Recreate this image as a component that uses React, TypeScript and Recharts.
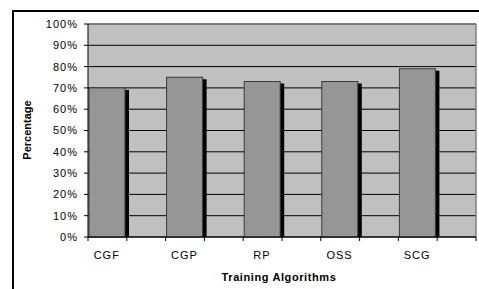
import React from "react";
import { BarChart, Bar, XAxis, YAxis, CartesianGrid, ReferenceLine } from "recharts";

const algorithms = ["CGF", "CGP", "RP", "OSS", "SCG"];
const percentages = [70, 75, 73, 73, 79];
const yTicks = [0, 10, 20, 30, 40, 50, 60, 70, 80, 90, 100];

const data = algorithms.map((name, i) => ({ name, value: percentages[i] }));

const FONT = "'Liberation Sans', Arial, sans-serif";
const PLOT_LEFT = 88;
const PLOT_RIGHT = 476;
const BAND = (PLOT_RIGHT - PLOT_LEFT) / algorithms.length;

// Excel-style bar: grey bar in the left half of the band with a black drop shadow
const ShadowBar = (props: any) => {
  const { x, y, width, height } = props;
  if (!height || height <= 0) return null;
  const w = Math.round(width / 2 - 2.8);
  return (
    <g>
      <rect x={x + 5} y={y + 2} width={w} height={height - 2} fill="#000" />
      <rect x={x + 1} y={y} width={w} height={height} fill="#969696" stroke="#3a3a3a" strokeWidth={1} />
    </g>
  );
};

const XTick = (props: any) => {
  const { x, y, payload, index } = props;
  const last = index === algorithms.length - 1;
  return (
    <g>
      <line x1={x - BAND / 2} x2={x - BAND / 2} y1={y} y2={y + 4} stroke="#000" />
      <line x1={x} x2={x} y1={y} y2={y + 4} stroke="#000" />
      {last && <line x1={x + BAND / 2} x2={x + BAND / 2} y1={y} y2={y + 4} stroke="#000" />}
      <text
        x={x - 20}
        y={y + 22}
        textAnchor="middle"
        fontFamily={FONT}
        fontSize={11}
        letterSpacing={1}
        fill="#000"
      >
        {payload.value}
      </text>
    </g>
  );
};

export default function App() {
  return (
    <div style={{ position: "absolute", left: 0, top: 0, width: 479, height: 289, overflow: "hidden", background: "#fff" }}>
      <div
        style={{
          position: "absolute",
          left: 12,
          top: 10,
          width: 600,
          height: 400,
          borderTop: "2px solid #000",
          borderLeft: "2px solid #000",
        }}
      />
      <div style={{ position: "absolute", left: 0, top: 0 }}>
        <BarChart
          width={479}
          height={289}
          data={data}
          margin={{ top: 24, right: 479 - PLOT_RIGHT, bottom: 22, left: 28 }}
          barCategoryGap={0}
          barGap={0}
        >
          <CartesianGrid vertical={false} stroke="#000" fill="#C0C0C0" fillOpacity={1} />
          <ReferenceLine y={100} stroke="#808080" strokeWidth={1.5} />
          <XAxis
            dataKey="name"
            height={30}
            axisLine={{ stroke: "#000" }}
            tickLine={false}
            tickSize={0}
            tickMargin={0}
            interval={0}
            tick={<XTick />}
          />
          <YAxis
            width={60}
            domain={[0, 100]}
            ticks={yTicks}
            interval={0}
            tickFormatter={(v: number) => `${v}%`}
            axisLine={{ stroke: "#000" }}
            tickLine={{ stroke: "#000" }}
            tickSize={4}
            tickMargin={6}
            tick={{ fontFamily: FONT, fontSize: 11, fill: "#000", letterSpacing: 1 }}
          />
          <Bar dataKey="value" shape={<ShadowBar />} isAnimationActive={false} />
          <line x1={PLOT_RIGHT} x2={PLOT_RIGHT} y1={24} y2={237} stroke="#808080" strokeWidth={1.5} />
          <text
            x={27}
            y={130}
            transform="rotate(-90 27 130)"
            textAnchor="middle"
            dominantBaseline="central"
            fontFamily={FONT}
            fontSize={11}
            fontWeight="bold"
            fill="#000"
          >
            Percentage
          </text>
          <text
            x={279}
            y={281}
            textAnchor="middle"
            fontFamily={FONT}
            fontSize={11}
            fontWeight="bold"
            letterSpacing={0.6}
            fill="#000"
          >
            Training Algorithms
          </text>
        </BarChart>
      </div>
    </div>
  );
}
